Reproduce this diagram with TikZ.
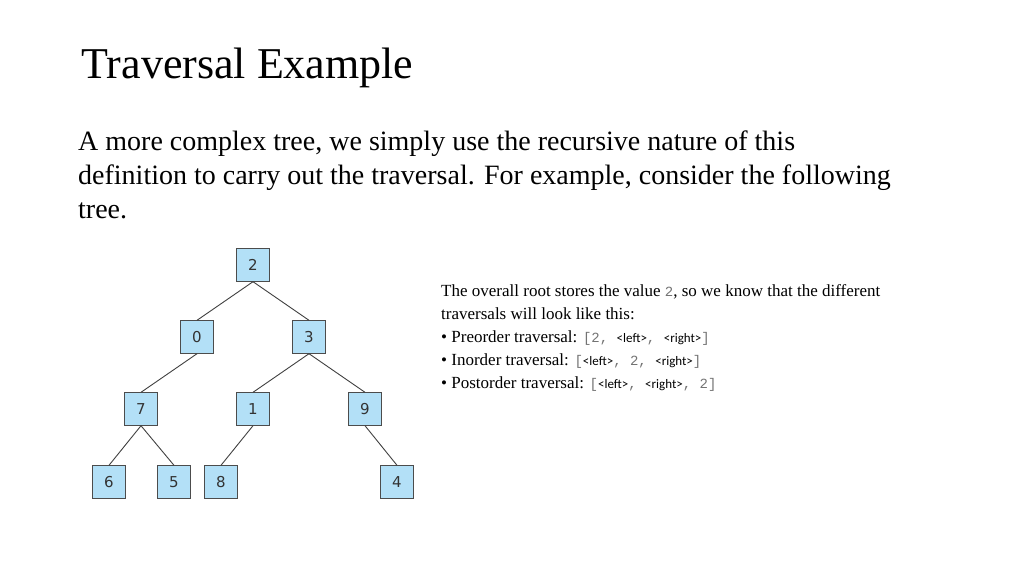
\documentclass[tikz,border=0pt]{standalone}
\usepackage{fontspec}
\setmainfont{Liberation Serif}
\newfontfamily\treefont{DejaVu Sans}
\newfontfamily\codefont{Liberation Mono}
\newfontfamily\tagfont{Carlito}
\begin{document}
\begin{tikzpicture}[x=1pt,y=-1pt,
  tn/.style={draw=black!70,fill=cyan!25!blue!10!white,fill=lightb,minimum size=33pt,inner sep=0pt,font=\treefont\fontsize{15}{15}\selectfont,text=black!80},
  ed/.style={draw=black!75,line width=0.9pt}]
\definecolor{lightb}{HTML}{B3E0F7}
\useasboundingbox (0,0) rectangle (1024,576);
\node[anchor=west,font=\fontsize{44}{44}\selectfont] (title) at (78,68) {Traversal Example};
\node[anchor=north west,align=left,inner sep=0pt,font=\fontsize{28}{34}\selectfont] (body) at (78,131)
 {A more complex tree, we simply use the recursive nature of this\\definition to carry out the traversal. For example, consider the following\\tree.};
\node (n2) [tn] at (253,265) {2};
\node (n0) [tn] at (197,337) {0};
\node (n3) [tn] at (309,337) {3};
\node (n7) [tn] at (141,409) {7};
\node (n1) [tn] at (253,409) {1};
\node (n9) [tn] at (365,409) {9};
\node (n6) [tn] at (109,482) {6};
\node (n5) [tn] at (174,482) {5};
\node (n8) [tn] at (221,482) {8};
\node (n4) [tn] at (397,482) {4};
\foreach \a/\b in {n2/n0,n2/n3,n0/n7,n3/n1,n3/n9,n7/n6,n7/n5,n1/n8,n9/n4}
  \draw[ed] (\a.south) -- (\b.north);
\newcommand{\cd}[1]{{\codefont\color{black!55}\fontsize{14}{14}\selectfont #1}}
\newcommand{\tg}[1]{{\tagfont\fontsize{13}{13}\selectfont #1}}
\node[anchor=north west,align=left,inner sep=0pt,font=\fontsize{17}{23}\selectfont] (info) at (441,284)
 {The overall root stores the value \cd{2}, so we know that the different\\
  traversals will look like this:\\
  \textbullet{} Preorder traversal: \cd{[2, }\tg{<left>}\cd{, }\tg{<right>}\cd{]}\\
  \textbullet{} Inorder traversal: \cd{[}\tg{<left>}\cd{, 2, }\tg{<right>}\cd{]}\\
  \textbullet{} Postorder traversal: \cd{[}\tg{<left>}\cd{, }\tg{<right>}\cd{, 2]}};
\end{tikzpicture}
\end{document}
